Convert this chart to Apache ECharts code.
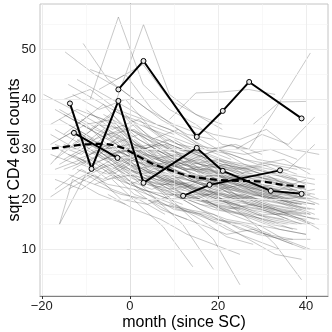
<!DOCTYPE html>
<html>
<head>
<meta charset="utf-8">
<script src="https://cdn.jsdelivr.net/npm/echarts@6/dist/echarts.min.js"></script>
<style>
  html, body { margin: 0; padding: 0; background: #fff; }
  #chart { width: 332px; height: 332px; }
</style>
</head>
<body>
<div id="chart"></div>
<script>
// individual trajectories (month, sqrt CD4)
const grayLines = [
  [[-17,31],[-11,29],[-5,33],[1,27],[7,25],[13,24],[19,22],[25,20]],
  [[-16,38],[-10,35],[-4,36],[2,30],[8,31],[14,27],[20,28],[26,25],[32,24]],
  [[-15,26],[-9,28],[-3,24],[3,22],[9,20],[15,21],[21,18],[27,17],[33,15]],
  [[-14.7,49.5],[-8,45],[-2,42],[4,38],[10,35],[16,33]],
  [[-18,20.5],[-12,24],[-6,27],[0,23],[6,21],[12,19]],
  [[-13,34],[-7,31],[-1,29],[5,26],[11,27],[17,23],[23,22],[29,21],[35,19],[41,18]],
  [[-12,28],[-6,30],[0,26],[6,24],[12,22],[18,25],[24,21],[30,19],[36,17]],
  [[-16,36],[-10,33],[-4,37],[2,32],[8,29],[14,28],[20,30],[26,27],[32,26],[38,24]],
  [[-10.6,51.2],[-5,44],[1,40],[7,36],[13,33],[19,32]],
  [[-9,40],[-2.6,56.5],[3,43],[9,38],[15,35],[21,31],[27,30]],
  [[-3,40],[3.1,55],[9,41],[15,37],[21,34]],
  [[-16,15],[-10,25],[-4,22],[2,20],[8,17]],
  [[-8,30],[-2,27],[4,24],[10,19],[16,16],[22,12.5],[28,11]],
  [[-4,24],[2,19],[7.6,14.5],[14.3,6.5]],
  [[-6,29],[0,25],[6,20],[12,15],[19,6]],
  [[7,22],[13,17],[19,12],[25,2.9]],
  [[15,24],[21,20],[27,16],[33,11],[39,3.9]],
  [[17,20],[23,17],[29,15],[35,12],[41,10]],
  [[9,36],[15,41.3],[21,41.5],[27,42],[33,41]],
  [[28,35],[34,39.5],[40,39.6]],
  [[27,30],[33,38],[41,49.3]],
  [[-18,27],[-12,33],[-6,30],[0,31],[6,28],[12,26],[18,24],[24,23],[30,22],[36,20],[42,19]],
  [[-17,24],[-11,22],[-5,26],[1,21],[7,19],[13,18],[19,16],[25,15],[31,13],[37,12]],
  [[-15,33],[-9,37],[-3,35],[3,30],[9,32],[15,29],[21,27],[27,26]],
  [[-14,29],[-8,27],[-2,30],[4,28],[10,25],[16,23],[22,24],[28,22],[34,21],[40,20]],
  [[-13,41],[-7,38],[-1,40],[5,34],[11,31],[17,30],[23,28]],
  [[-12,35],[-6,39],[0,33],[6,30],[12,27],[18,26],[24,25],[30,23],[36,22],[42,21]],
  [[-10,25],[-4,28],[2,24],[8,23],[14,20],[20,19],[26,18],[32,16],[38,15]],
  [[-9,32],[-3,30],[3,27],[9,26],[15,24],[21,23],[27,21],[33,20],[39,19]],
  [[-7,27],[-1,24],[5,22],[11,24],[17,21],[23,19],[29,18],[35,17],[41,15]],
  [[-5,36],[1,31],[7,29],[13,26],[19,27],[25,25],[31,24],[37,23]],
  [[-4,31],[2,33],[8,28],[14,25],[20,23],[26,24],[32,22],[38,21]],
  [[-2,26],[4,23],[10,21],[16,20],[22,18],[28,19],[34,17],[40,16]],
  [[0,34],[6,31],[12,29],[18,27],[24,26],[30,27],[36,25],[42,24]],
  [[1,22],[7,20],[13,18],[19,17],[25,14],[31,13],[37,11]],
  [[3,29],[9,27],[15,25],[21,24],[27,22],[33,23],[39,21]],
  [[5,25],[11,23],[17,22],[23,20],[29,19],[35,18],[41,17]],
  [[6,32],[12,30],[18,28],[24,27],[30,25],[36,26],[42,31]],
  [[8,27],[14,24],[20,25],[26,22],[32,21],[38,20]],
  [[10,21],[16,19],[22,18],[28,16],[34,14],[40,13]],
  [[11,30],[17,29],[23,31],[29,28],[35,27],[41,26]],
  [[12,24],[18,23],[24,21],[30,20],[36,19],[42,18]],
  [[14,33],[20,30],[26,29],[32,30],[38,28]],
  [[16,26],[22,25],[28,23],[34,22],[40,24]],
  [[18,22],[24,20],[30,21],[36,19],[42,17]],
  [[20,28],[26,26],[32,27],[38,25]],
  [[-18,33],[-12,30],[-6,34],[0,29],[6,27],[12,28]],
  [[-17,28],[-11,32],[-5,29],[1,30],[7,26]],
  [[-16,30],[-10,27],[-4,31],[2,26],[8,24],[14,23],[20,21]],
  [[-15,37],[-9,34],[-3,38],[3,33],[9,30]],
  [[-14,25],[-8,23],[-2,25],[4,21],[10,18],[16,17],[22,14],[28,12],[34,10]],
  [[-13,31],[-7,35],[-1,32],[5,29],[11,28],[17,26],[23,25],[29,24],[35,23]],
  [[-12,44],[-6,41],[0,38],[6,35],[12,33],[18,30],[24,31],[30,29]],
  [[-11,27],[-5,25],[1,28],[7,24],[13,22],[19,20],[25,19]],
  [[-10,38],[-4,34],[2,36],[8,32],[14,30],[20,28],[26,27],[32,25],[38,24]],
  [[-8,23],[-2,21],[4,20],[10,17],[16,15],[22,13],[28,14],[34,12],[40,10]],
  [[-6,33],[0,29],[6,31],[12,27],[18,25],[24,24],[30,22],[36,21],[42,20]],
  [[-3,28],[3,26],[9,24],[15,22],[21,21],[27,20],[33,18],[39,17]],
  [[-1,37],[5,32],[11,34],[17,30],[23,29],[29,27],[35,28],[41,25]],
  [[2,24],[8,22],[14,19],[20,16],[26,15],[32,13]],
  [[4,31],[10,28],[16,27],[22,26],[28,24],[34,23],[40,22]],
  [[7,26],[13,27],[19,23],[25,22],[31,21],[37,19]],
  [[9,19],[15,17],[21,15],[27,12],[33,9],[39,8]],
  [[-18,35],[-12,38],[-6,36],[0,32],[6,29]],
  [[-17,22],[-11,26],[-5,23],[1,22],[7,18],[13,16]],
  [[-9,46],[-3,44],[3,47],[9,40],[15,37],[21,35]],
  [[-7,42],[-1,45],[5,38],[11,34]],
  [[-14,43],[-8,40],[-2,37],[4,35],[10,33]],
  [[-5,21],[1,18],[7,16],[13,13],[19,11],[25,9]],
  [[13,35],[19,33],[25,32],[31,34],[37,30],[43,29]],
  [[24,30],[30,33],[36,31],[42,36.5]],
  [[15,20],[21,22],[27,19],[33,18],[39,16],[43,14]],
  [[-16,27],[-10,30],[-4,27],[2,25],[8,26],[14,22],[20,20],[26,21],[32,19],[38,18]],
  [[-15,31],[-9,29],[-3,32],[3,28],[9,24],[15,25],[21,23],[27,22],[33,20],[39,19]],
  [[-11,36],[-5,33],[1,34],[7,30],[13,29],[19,27],[25,26],[31,25],[37,22]],
  [[-10,29],[-4,26],[2,29],[8,25],[14,22],[20,23],[26,20],[32,18],[38,17],[42,16]],
  [[-8,34],[-2,32],[4,30],[10,29],[16,27],[22,26],[28,25],[34,23],[40,21]],
  [[-6,26],[0,23],[6,25],[12,21],[18,19],[24,18],[30,16],[36,15]],
  [[-4,38],[2,35],[8,33],[14,31],[20,30],[26,28],[32,27],[38,26]],
  [[-2,31],[4,27],[10,26],[16,24],[22,22],[28,21],[34,20],[40,18]],
  [[1,27],[7,24],[13,23],[19,21],[25,20],[31,18],[37,17],[43,16]],
  [[3,35],[9,31],[15,29],[21,27],[27,26],[33,24],[39,22]],
  [[5,20],[11,18],[17,17],[23,15],[29,13],[35,12],[41,12]],
  [[-13,26],[-7,29],[-1,25],[5,24],[11,22],[17,21],[23,19],[29,17],[35,16]],
  [[-12,32],[-6,28],[0,30],[6,27],[12,25],[18,24],[24,22],[30,21],[36,20],[42,19]],
  [[-18,29],[-12,27],[-6,31],[0,27],[6,24],[12,23],[18,21]],
  [[10,32],[16,29],[22,24],[28,26],[34,25],[40,23]],
  [[19,24],[25,23],[31,20],[37,22],[43,20]],
  [[-17,38],[-11,35],[-5,32],[1,35],[7,31],[13,28],[19,26]],
  [[-14,22],[-8,25],[-2,20],[4,19],[10,21],[16,18],[22,16],[28,15],[34,14],[40,13]],
  [[-19.6,41],[-13,38],[-7,35],[-1,34]],
  [[-16,15],[-13,24],[-7,21],[-1,19]],
  [[-17,34],[-11,31],[-5,28],[1,29],[7,27],[13,25],[19,24],[25,22]],
  [[-15,28],[-9,31],[-3,27],[3,25],[9,23],[15,22],[21,20],[27,19],[33,18]],
  [[-13,36],[-7,33],[-1,30],[5,31],[11,28],[17,25],[23,24],[29,22],[35,21],[41,20]],
  [[-11,30],[-5,34],[1,30],[7,28],[13,26],[19,25],[25,23],[31,21],[37,20]],
  [[-9,27],[-3,29],[3,25],[9,22],[15,23],[21,20],[27,18],[33,17],[39,15]],
  [[-7,35],[-1,31],[5,28],[11,29],[17,27],[23,23],[29,22],[35,20],[41,21]],
  [[-5,30],[1,26],[7,27],[13,24],[19,22],[25,21],[31,19],[37,18]],
  [[-3,33],[3,29],[9,28],[15,26],[21,25],[27,23],[33,22],[39,20]],
  [[-1,28],[5,25],[11,23],[17,24],[23,21],[29,20],[35,19],[41,17]],
  [[1,32],[7,28],[13,27],[19,25],[25,24],[31,22],[37,21],[43,19]],
  [[3,26],[9,24],[15,21],[21,21],[27,19],[33,17],[39,18]],
  [[-16,32],[-10,35],[-4,30],[2,28],[8,27],[14,26],[20,24]],
  [[-14,35],[-8,32],[-2,34],[4,29],[10,27],[16,28],[22,25],[28,23]],
  [[-12,26],[-6,24],[0,27],[6,22],[12,20],[18,21],[24,19],[30,18],[36,16]],
  [[-18,31],[-12,34],[-6,29],[0,28],[6,26],[12,24]],
  [[-10,33],[-4,29],[2,31],[8,27],[14,24],[20,22],[26,23],[32,21],[38,19]],
  [[-8,28],[-2,33],[4,26],[10,24],[16,22],[22,21],[28,20],[34,18],[40,17]],
  [[-6,37],[0,34],[6,32],[12,30],[18,29],[24,27],[30,26],[36,24],[42,23]],
  [[-4,27],[2,22],[8,21],[14,21],[20,18],[26,17],[32,15],[38,14]],
  [[-2,35],[4,32],[10,30],[16,26],[22,27],[28,25],[34,24],[40,22]],
  [[0,26],[6,23],[12,23],[18,20],[24,19],[30,17],[36,17],[42,15]],
  [[2,30],[8,26],[14,28],[20,25],[26,23],[32,22],[38,22]],
  [[4,23],[10,22],[16,20],[22,19],[28,17],[34,16],[40,15]],
  [[6,28],[12,26],[18,26],[24,24],[30,23],[36,21],[42,22]],
  [[8,31],[14,29],[20,27],[26,25],[32,24],[38,23]],
  [[-15,40],[-9,42],[-3,38],[3,36],[9,34],[15,31]],
  [[-13,29],[-7,26],[-1,28],[5,27],[11,25],[17,24],[23,22],[29,20]],
  [[-11,24],[-5,27],[1,24],[7,23],[13,20],[19,18],[25,17],[31,16],[37,14]],
  [[-17,26],[-11,28],[-5,24],[1,25],[7,22],[13,21],[19,19],[25,18]],
  [[10,26],[16,23],[22,23],[28,21],[34,20],[40,19]]
];

// highlighted subjects
const subjectA = [[-2.6,42],[3.1,47.7],[15.2,32.5],[21.1,37.7],[27.1,43.5],[39,36.2]];
const subjectB = [[-13.6,39.2],[-8.7,26.1],[-2.6,39.7],[3.1,23.3],[15.2,30.3],[21.1,25.7],[32,21.7],[39,21.1]];
const subjectC = [[-12.7,33.3],[-2.8,28.3]];
const subjectD = [[12.1,20.7],[18.1,22.9],[34.1,25.8]];

// mean curve
const meanMonths = [-17.7,-14,-10,-6,-2,0,2,5,9,12.5,16,20,25,30.7,34.8,40.5];
const meanValues = [30.2,30.6,31.0,31.1,30.4,29.6,28.6,27.2,25.9,24.9,24.3,23.9,23.7,23.5,22.9,22.5];

const xTicks = [-20, 0, 20, 40];
const xMinor = [-10, 10, 30];
const yTicks = [10, 20, 30, 40, 50];
const yMinor = [5, 15, 25, 35, 45, 55];

const FONT = "Liberation Sans";
const chart = echarts.init(document.getElementById("chart"));

const gridLines = (vals, key, color, width) =>
  vals.map(v => ({ [key]: v, lineStyle: { color, width, type: "solid" } }));

const series = [];

// background grid lines
series.push({
  type: "line",
  data: [],
  silent: true,
  markLine: {
    silent: true,
    symbol: "none",
    label: { show: false },
    animation: false,
    data: [
      ...gridLines(xMinor, "xAxis", "#f4f4f4", 0.6),
      ...gridLines(yMinor, "yAxis", "#f4f4f4", 0.6),
      ...gridLines(xTicks, "xAxis", "#ebebeb", 0.9),
      ...gridLines(yTicks, "yAxis", "#ebebeb", 0.9),
    ],
  },
});

grayLines.forEach((pts) => {
  series.push({
    type: "line",
    data: pts,
    showSymbol: false,
    silent: true,
    lineStyle: { color: "rgba(80,80,80,0.42)", width: 0.75 },
  });
});

[subjectA, subjectB, subjectC, subjectD].forEach((pts) => {
  series.push({
    type: "line",
    data: pts,
    symbol: "circle",
    symbolSize: 5,
    z: 5,
    itemStyle: { color: "#e8e8e8", borderColor: "#000", borderWidth: 1 },
    lineStyle: { color: "#000", width: 2 },
  });
});

series.push({
  type: "line",
  data: meanMonths.map((m, i) => [m, meanValues[i]]),
  showSymbol: false,
  smooth: 0.4,
  z: 6,
  lineStyle: { color: "#000", width: 2.2, type: [7, 4] },
});

chart.setOption({
  animation: false,
  backgroundColor: "#fff",
  grid: {
    left: 40, right: 4, top: 4, bottom: 36,
    outerBoundsMode: "none",
    containLabel: false,
    show: true, borderColor: "#c4c4c4", borderWidth: 1,
  },
  xAxis: {
    type: "value",
    min: -20.4,
    max: 45,
    name: "month (since SC)",
    nameLocation: "middle",
    nameGap: 19,
    nameMoveOverlap: false,
    nameTextStyle: { fontFamily: FONT, fontSize: 16, color: "#000" },
    axisLine: { show: true, lineStyle: { color: "#808080", width: 1 } },
    axisTick: { show: true, length: 3, customValues: xTicks, lineStyle: { color: "#333" } },
    axisLabel: {
      customValues: xTicks,
      margin: 4,
      fontFamily: FONT,
      fontSize: 13,
      color: "#222",
      formatter: v => (v < 0 ? "\u2212" + (-v) : String(v)),
    },
    splitLine: { show: false },
  },
  yAxis: {
    type: "value",
    min: 0.66,
    max: 59.1,
    name: "sqrt CD4 cell counts",
    nameLocation: "middle",
    nameGap: 17,
    nameMoveOverlap: false,
    nameTextStyle: { fontFamily: FONT, fontSize: 16, color: "#000" },
    axisLine: { show: true, lineStyle: { color: "#808080", width: 1 } },
    axisTick: { show: true, length: 3, customValues: yTicks, lineStyle: { color: "#333" } },
    axisLabel: {
      customValues: yTicks,
      margin: 4,
      fontFamily: FONT,
      fontSize: 13,
      color: "#222",
    },
    splitLine: { show: false },
  },
  series,
});
</script>
</body>
</html>
